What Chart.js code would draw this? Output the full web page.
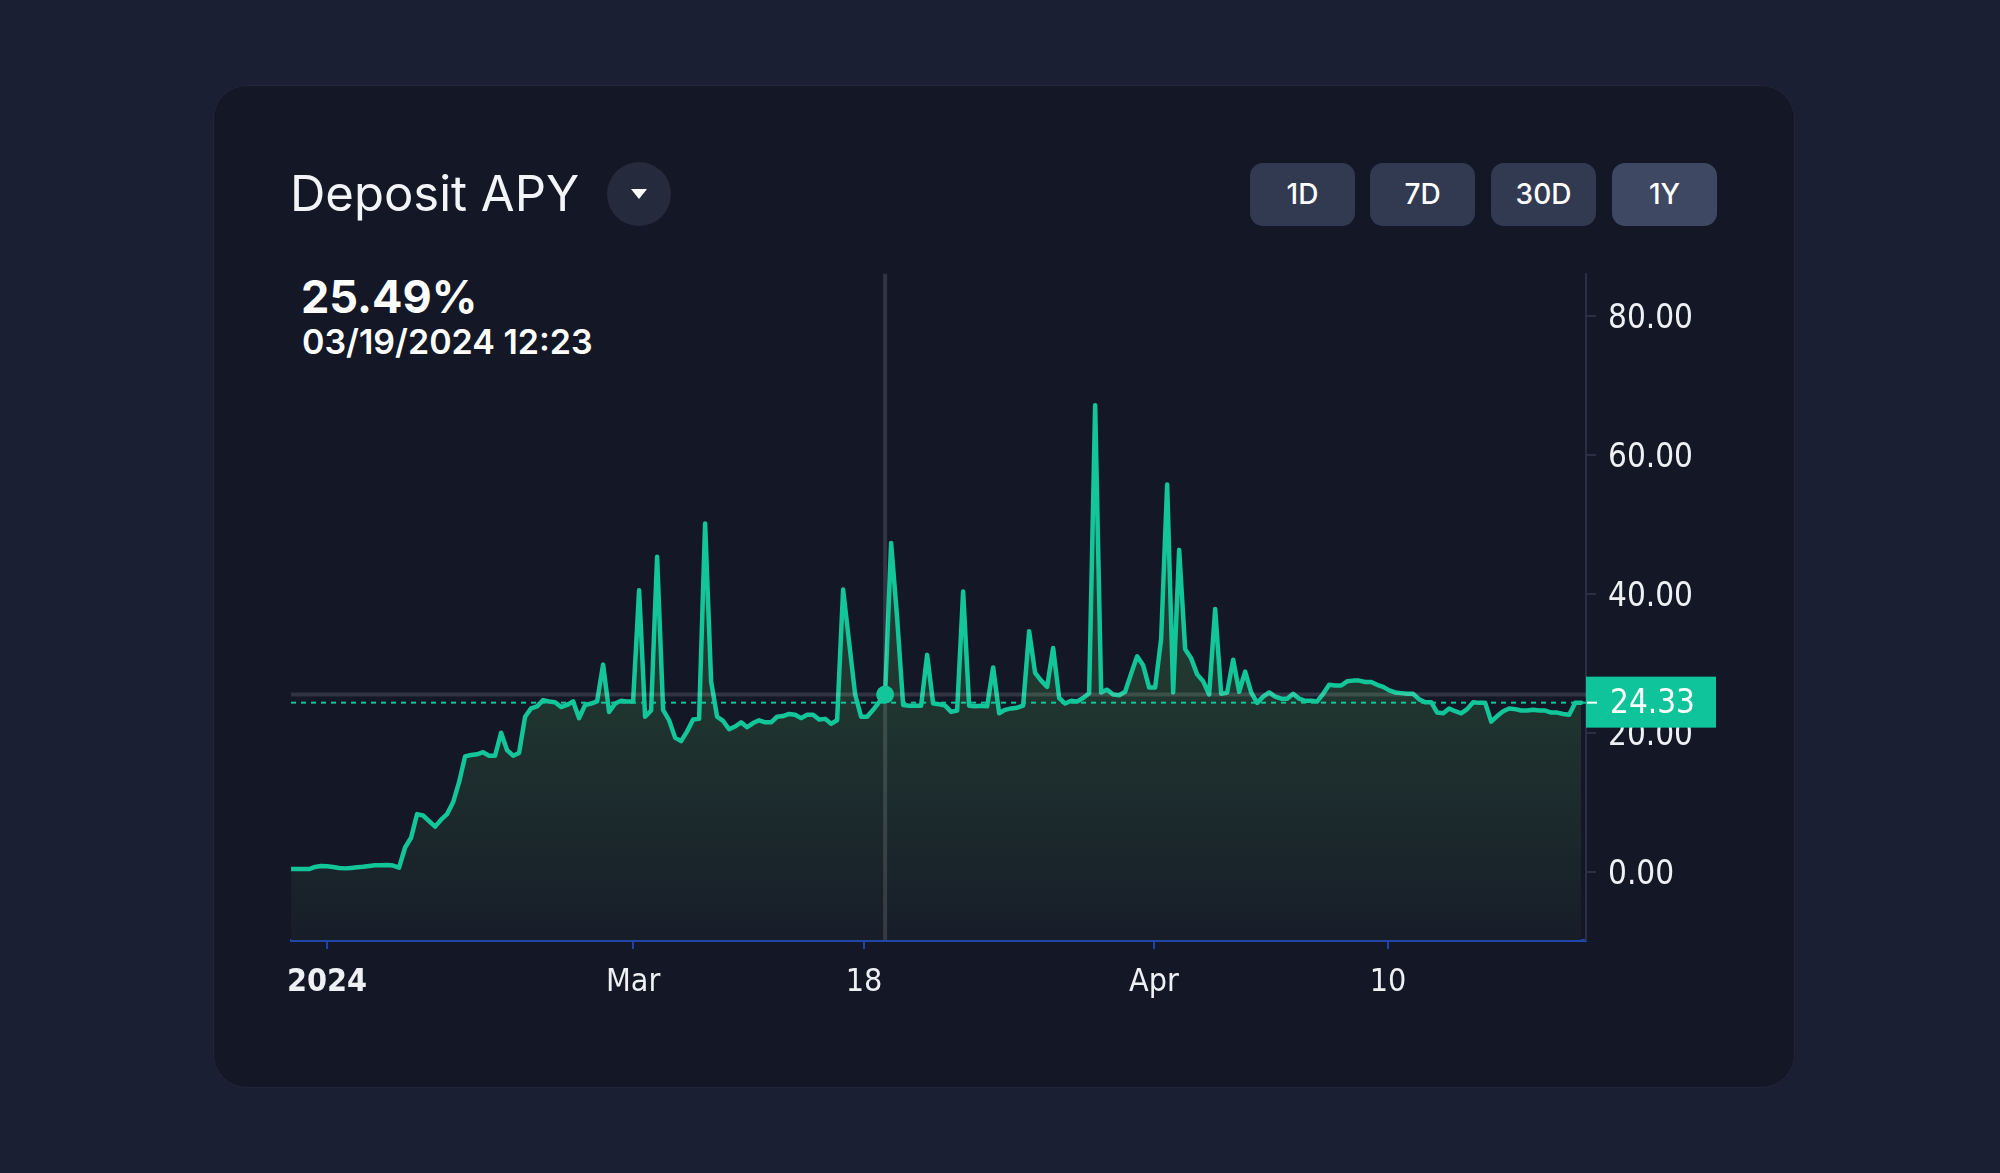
<!DOCTYPE html>
<html lang="en">
<head>
    <meta charset="UTF-8">
    <title>Deposit APY</title>
    <script src="https://cdn.jsdelivr.net/npm/chart.js@4.4.0/dist/chart.umd.min.js"></script>
    <style>
        html, body {
            margin: 0;
            padding: 0;
            width: 2000px;
            height: 1173px;
            background: #1b1f33;
            overflow: hidden;
            font-family: Inter, "Noto Sans", sans-serif;
        }
        .card {
            position: absolute;
            left: 213px;
            top: 85px;
            width: 1580px;
            height: 1001px;
            background: #131726;
            border: 1px solid #20253a;
            border-radius: 34px;
        }
        .title {
            position: absolute;
            left: 290px;
            top: 160px;
            font-size: 49px;
            line-height: 68px;
            color: #f2f4f7;
        }
        .drop {
            position: absolute;
            left: 607px;
            top: 162px;
            width: 64px;
            height: 64px;
            border-radius: 50%;
            background: #252a3c;
        }
        .drop::after {
            content: '';
            position: absolute;
            left: 24px;
            top: 27px;
            border-left: 8px solid transparent;
            border-right: 8px solid transparent;
            border-top: 10px solid #ffffff;
        }
        .btn {
            position: absolute;
            top: 163px;
            width: 105px;
            height: 63px;
            border-radius: 13px;
            background: #323a51;
            color: #ffffff;
            font-size: 28px;
            font-weight: 500;
            line-height: 63px;
            text-align: center;
        }
        .btn.active { background: #3f4862; }
        .value {
            position: absolute;
            left: 301px;
            top: 268px;
            font-size: 45px;
            font-weight: 700;
            line-height: 58px;
            color: #ffffff;
        }
        .stamp {
            position: absolute;
            left: 302px;
            top: 322px;
            font-size: 34px;
            font-weight: 600;
            line-height: 40px;
            color: #ffffff;
        }
        .chart-box {
            position: absolute;
            left: 273px;
            top: 242px;
            width: 1487px;
            height: 772px;
        }
    </style>
</head>
<body>
    <div class="card"></div>
    <div class="title">Deposit APY</div>
    <div class="drop"></div>
    <div class="btn" style="left:1250px">1D</div>
    <div class="btn" style="left:1370px">7D</div>
    <div class="btn" style="left:1491px">30D</div>
    <div class="btn active" style="left:1612px">1Y</div>
    <div class="value">25.49%</div>
    <div class="stamp">03/19/2024 12:23</div>

    <div class="chart-box">
        <canvas id="apyChart"></canvas>
    </div>

    <script>
        // APY readings, one per bar (oldest first)
        const apyValues = [
            0.4, 0.4, 0.4, 0.4, 0.7, 0.85, 0.8, 0.7, 0.55, 0.5,
            0.57, 0.65, 0.73, 0.85, 0.96, 0.96, 1.0, 0.9, 0.6, 3.5,
            4.9, 8.3, 8.1, 7.3, 6.5, 7.5, 8.3, 10.0, 12.9, 16.6,
            16.8, 16.9, 17.2, 16.7, 16.7, 20.0, 17.5, 16.7, 17.1, 22.3,
            23.5, 23.8, 24.7, 24.5, 24.4, 23.7, 24.0, 24.5, 22.1, 24.0,
            24.2, 24.5, 29.8, 23.0, 24.2, 24.6, 24.5, 24.5, 40.5, 22.3,
            23.2, 45.3, 23.3, 21.8, 19.3, 18.8, 20.2, 21.9, 22.0, 50.1,
            27.4, 22.3, 21.7, 20.5, 20.9, 21.5, 20.8, 21.4, 21.8, 21.5,
            21.5, 22.3, 22.4, 22.7, 22.6, 22.1, 22.6, 22.6, 21.9, 22.0,
            21.3, 21.8, 40.6, 33.0, 25.5, 22.3, 22.3, 23.3, 24.4, 25.49,
            47.3, 36.5, 24.0, 23.9, 23.9, 23.9, 31.2, 24.2, 24.1, 23.9,
            23.0, 23.2, 40.3, 23.9, 23.8, 23.9, 23.8, 29.4, 22.8, 23.3,
            23.5, 23.6, 23.9, 34.6, 28.6, 27.5, 26.6, 32.2, 25.0, 24.2,
            24.6, 24.5, 25.0, 25.7, 67.1, 25.8, 26.2, 25.5, 25.4, 25.9,
            28.5, 31.0, 29.7, 26.5, 26.5, 33.5, 55.7, 25.8, 46.3, 32.0,
            30.7, 28.4, 27.4, 25.5, 37.8, 25.6, 25.8, 30.5, 25.9, 28.8,
            25.8, 24.3, 25.2, 25.8, 25.2, 24.9, 24.9, 25.6, 24.9, 24.6,
            24.6, 24.5, 25.6, 26.9, 26.8, 26.8, 27.4, 27.5, 27.5, 27.3,
            27.3, 26.9, 26.6, 26.1, 25.8, 25.7, 25.6, 25.6, 24.8, 24.4,
            24.4, 22.9, 22.8, 23.5, 23.1, 22.8, 23.4, 24.4, 24.3, 24.3,
            21.6, 22.4, 23.1, 23.5, 23.4, 23.2, 23.2, 23.3, 23.2, 23.2,
            22.9, 22.9, 22.7, 22.6, 24.3, 24.33
        ];

        // x axis labels and the bar they sit on
        const xTickLabels = ['2024', 'Mar', '18', 'Apr', '10'];
        const xTickBars = [6, 57, 95.5, 143.8, 182.8];
        const yTicks = [0, 20, 40, 60, 80];

        const hoverBar = 99;
        const hoverValue = 25.49;
        const lastValue = 24.33;

        const teal = '#12c69a';
        const tickFont = 'DejaVu Sans Condensed';

        const overlay = {
            id: 'overlay',
            afterDatasetsDraw(chart) {
                const { ctx, chartArea, scales } = chart;
                const xs = scales.x, ys = scales.y;
                const hx = xs.getPixelForValue(hoverBar);
                const hy = ys.getPixelForValue(hoverValue);
                const ly = ys.getPixelForValue(lastValue);
                ctx.save();
                // crosshair
                ctx.strokeStyle = 'rgba(255,255,255,0.13)';
                ctx.lineWidth = 4;
                ctx.beginPath();
                ctx.moveTo(chartArea.left, hy);
                ctx.lineTo(chartArea.right, hy);
                ctx.moveTo(hx, chartArea.top);
                ctx.lineTo(hx, chartArea.bottom);
                ctx.stroke();
                // last value line
                ctx.strokeStyle = teal;
                ctx.lineWidth = 2;
                ctx.setLineDash([5, 5]);
                ctx.beginPath();
                ctx.moveTo(chartArea.left, ly);
                ctx.lineTo(chartArea.right, ly);
                ctx.stroke();
                ctx.setLineDash([]);
                // hover dot
                ctx.fillStyle = teal;
                ctx.beginPath();
                ctx.arc(hx, hy, 9, 0, Math.PI * 2);
                ctx.fill();
                ctx.restore();
            },
            afterDraw(chart) {
                const { ctx, chartArea, scales } = chart;
                const ly = scales.y.getPixelForValue(lastValue);
                ctx.save();
                ctx.fillStyle = '#0fc49a';
                ctx.fillRect(chartArea.right, ly - 26, 130, 51);
                ctx.strokeStyle = '#ffffff';
                ctx.lineWidth = 2;
                ctx.beginPath();
                ctx.moveTo(chartArea.right + 1, ly);
                ctx.lineTo(chartArea.right + 11, ly);
                ctx.stroke();
                ctx.fillStyle = '#ffffff';
                ctx.font = '33px "' + tickFont + '"';
                ctx.textBaseline = 'middle';
                ctx.fillText(lastValue.toFixed(2), chartArea.right + 24, ly + 2);
                ctx.restore();
            }
        };

        const ctx = document.getElementById('apyChart').getContext('2d');
        new Chart(ctx, {
            type: 'line',
            data: {
                datasets: [{
                    data: apyValues.map((v, i) => ({ x: i, y: v })),
                    borderColor: teal,
                    borderWidth: 4.5,
                    borderJoinStyle: 'round',
                    borderCapStyle: 'round',
                    pointRadius: 0,
                    tension: 0,
                    fill: 'start',
                    backgroundColor: function(context) {
                        const area = context.chart.chartArea;
                        if (!area) return 'rgba(30,50,45,1)';
                        const g = context.chart.ctx.createLinearGradient(0, area.top, 0, area.bottom);
                        g.addColorStop(0, '#27443a');
                        g.addColorStop(0.6, '#213830');
                        g.addColorStop(1, '#171d29');
                        return g;
                    }
                }]
            },
            options: {
                responsive: true,
                maintainAspectRatio: false,
                animation: false,
                layout: { padding: 0 },
                plugins: {
                    legend: { display: false },
                    tooltip: { enabled: false }
                },
                scales: {
                    x: {
                        type: 'linear',
                        min: 0,
                        max: 215.8,
                        afterFit: (scale) => { scale.height = 74; },
                        afterBuildTicks: (scale) => {
                            scale.ticks = xTickBars.map(v => ({ value: v }));
                        },
                        ticks: {
                            autoSkip: false,
                            maxRotation: 0,
                            padding: 14,
                            color: '#eef0f3',
                            font: (c) => ({
                                family: tickFont,
                                size: 32,
                                weight: c.index === 0 ? 'bold' : 'normal'
                            }),
                            callback: (v) => {
                                const k = xTickBars.indexOf(v);
                                return k >= 0 ? xTickLabels[k] : '';
                            }
                        },
                        grid: {
                            drawOnChartArea: false,
                            drawTicks: true,
                            tickLength: 9,
                            color: '#2043a6',
                            lineWidth: 2
                        },
                        border: { display: true, color: '#2146a8', width: 3 }
                    },
                    y: {
                        position: 'right',
                        min: -9.8,
                        max: 86,
                        afterFit: (scale) => { scale.width = 174; },
                        afterBuildTicks: (scale) => {
                            scale.ticks = yTicks.map(v => ({ value: v }));
                        },
                        ticks: {
                            padding: 12,
                            labelOffset: 4,
                            color: '#eef0f3',
                            font: { family: tickFont, size: 33 },
                            callback: (v) => Number(v).toFixed(2)
                        },
                        grid: {
                            drawOnChartArea: false,
                            drawTicks: true,
                            tickLength: 10,
                            color: '#2a2f44',
                            lineWidth: 2
                        },
                        border: { display: true, color: '#2a2f44', width: 2 }
                    }
                }
            },
            plugins: [overlay]
        });
    </script>
</body>
</html>
